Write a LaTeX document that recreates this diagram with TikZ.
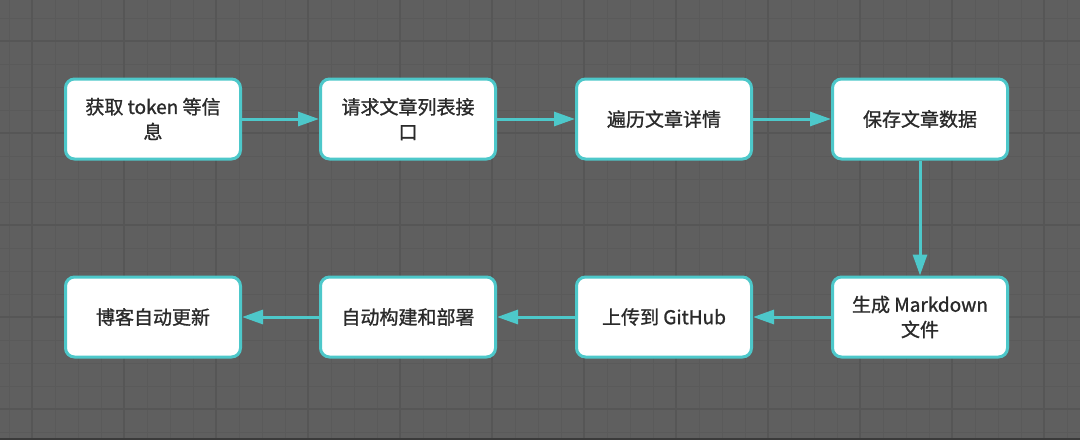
\documentclass[tikz,border=0pt]{standalone}
\usepackage{fontspec}
\setmainfont{Noto Sans CJK SC}
\newfontfamily\stepfont{Noto Sans CJK SC}[BoldFont={Noto Sans CJK SC},BoldFeatures={FakeBold=1.2}]
\usetikzlibrary{arrows.meta}

\definecolor{bggray}{HTML}{5F5F5F}
\definecolor{gridminor}{HTML}{5A5A5A}
\definecolor{gridmajor}{HTML}{565656}
\definecolor{darkedge}{HTML}{3A3A3A}
\definecolor{tealline}{HTML}{4DC8CA}
\definecolor{textgray}{HTML}{2A2A2A}

\begin{document}
\begin{tikzpicture}[x=1pt,y=-1pt,
    stepbox/.style={draw=tealline,line width=3pt,fill=white,rounded corners=9pt,
        minimum width=175pt,minimum height=80pt,inner sep=0pt,align=center,
        text=textgray,font=\stepfont\bfseries\fontsize{19pt}{25pt}\selectfont},
    flow/.style={draw=tealline,line width=3pt,-{Triangle[length=21pt,width=14pt,fill=tealline]}}]
    % Canvas and grid
    \useasboundingbox (0,0) rectangle (1080,440);
    \fill[bggray] (0,0) rectangle (1080,440);
    \foreach \x in {9,32,...,1080} \draw[gridminor,line width=1pt] (\x,0) -- (\x,440);
    \foreach \y in {18,41,...,440} \draw[gridminor,line width=1pt] (0,\y) -- (1080,\y);
    \foreach \x in {32,124,...,1080} \draw[gridmajor,line width=1.2pt] (\x,0) -- (\x,440);
    \foreach \y in {41,133,...,440} \draw[gridmajor,line width=1.2pt] (0,\y) -- (1080,\y);
    \fill[darkedge] (0,438) rectangle (1080,440);

    % Steps, top row
    \node[stepbox] (token)  at (153,119) {获取 token 等信\\息};
    \node[stepbox] (list)   at (408,119) {请求文章列表接\\口};
    \node[stepbox] (detail) at (664,119) {遍历文章详情};
    \node[stepbox] (save)   at (920,119) {保存文章数据};
    % Steps, bottom row
    \node[stepbox] (md)     at (920,317) {生成 Markdown\\文件};
    \node[stepbox] (upload) at (664,317) {上传到 GitHub};
    \node[stepbox] (deploy) at (408,317) {自动构建和部署};
    \node[stepbox] (blog)   at (153,317) {博客自动更新};

    % Connectors
    \draw[flow] (token) -- (list);
    \draw[flow] (list) -- (detail);
    \draw[flow] (detail) -- (save);
    \draw[flow] (save) -- (md);
    \draw[flow] (md) -- (upload);
    \draw[flow] (upload) -- (deploy);
    \draw[flow] (deploy) -- (blog);
\end{tikzpicture}
\end{document}
